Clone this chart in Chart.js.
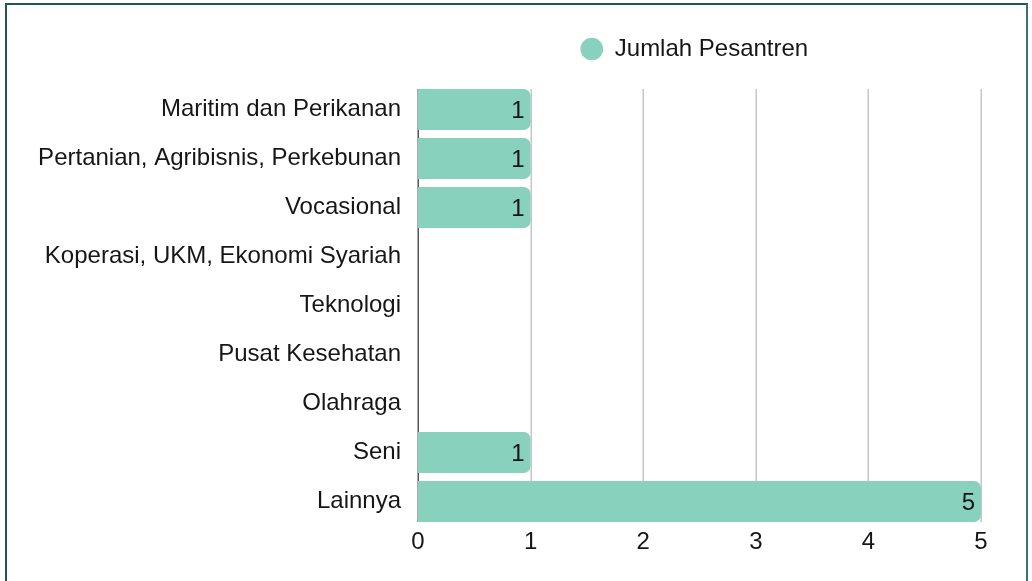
<!DOCTYPE html>
<html>
<head>
<meta charset="utf-8">
<script src="https://cdn.jsdelivr.net/npm/chart.js@4.4.1/dist/chart.umd.min.js"></script>
<style>
  html, body { margin: 0; padding: 0; background: #fff; overflow: hidden; }
  #wrap { position: absolute; left: 0; top: 0; width: 1032px; height: 581px; }
  #frame { position: absolute; left: 5px; top: 3px; width: 1019px; height: 600px;
           border-left: 2px solid #1d5a5a; border-top: 2px solid #1d5a5a; border-right: 2px solid #3d7070;
           pointer-events: none; }
</style>
</head>
<body>
<div id="wrap"><canvas id="c" width="1032" height="581"></canvas></div>
<div id="frame"></div>
<script>
const categories = [
  "Maritim dan Perikanan",
  "Pertanian, Agribisnis, Perkebunan",
  "Vocasional",
  "Koperasi, UKM, Ekonomi Syariah",
  "Teknologi",
  "Pusat Kesehatan",
  "Olahraga",
  "Seni",
  "Lainnya"
];
const seriesName = "Jumlah Pesantren";
const jumlahPesantren = [1, 1, 1, 0, 0, 0, 0, 1, 5];
const xTicks = [0, 1, 2, 3, 4, 5];

const FONT = "'Liberation Sans', Arial, sans-serif";
const TEXT = "#161616";

// grid lines and axis line spanning from first bar top to last bar bottom
const gridPlugin = {
  id: 'gridPlugin',
  beforeDatasetsDraw(chart) {
    const ctx = chart.ctx;
    const xs = chart.scales.x, ys = chart.scales.y;
    const n = chart.data.labels.length;
    const half = (ys.getPixelForValue(1) - ys.getPixelForValue(0)) * 0.837 / 2;
    const top = ys.getPixelForValue(0) - half;
    const bottom = ys.getPixelForValue(n - 1) + half;
    ctx.save();
    ctx.lineWidth = 1.5;
    ctx.strokeStyle = '#c6c6c6';
    xTicks.forEach(v => {
      if (v === 0) return;
      const x = Math.round(xs.getPixelForValue(v)) + 0.25;
      ctx.beginPath(); ctx.moveTo(x, top); ctx.lineTo(x, bottom); ctx.stroke();
    });
    ctx.strokeStyle = '#555555';
    const x0 = Math.round(xs.getPixelForValue(0)) + 0.25;
    ctx.beginPath(); ctx.moveTo(x0, top); ctx.lineTo(x0, bottom); ctx.stroke();
    ctx.restore();
  }
};

const valueLabels = {
  id: 'valueLabels',
  afterDatasetsDraw(chart) {
    const ctx = chart.ctx;
    const meta = chart.getDatasetMeta(0);
    ctx.save();
    ctx.font = "24px " + FONT;
    ctx.fillStyle = TEXT;
    ctx.textAlign = 'right';
    ctx.textBaseline = 'middle';
    meta.data.forEach((bar, i) => {
      const v = chart.data.datasets[0].data[i];
      if (!v) return;
      ctx.fillText(String(v), bar.x - 6, bar.y + 2);
    });
    ctx.restore();
  }
};

const legendTweak = {
  id: 'legendTweak',
  beforeInit(chart) {
    const lg = chart.legend;
    const origFit = lg.fit;
    lg.fit = function () {
      origFit.call(this);
      this.height = 59;
    };
    const origDraw = lg.draw;
    lg.draw = function () {
      const ctx = this.ctx;
      ctx.save();
      ctx.translate(-5, 1);
      origDraw.call(this);
      ctx.restore();
    };
  }
};

new Chart(document.getElementById('c'), {
  type: 'bar',
  data: {
    labels: categories,
    datasets: [{
      label: seriesName,
      data: jumlahPesantren,
      backgroundColor: '#88d1bd',
      borderWidth: 0,
      borderRadius: 7,
      borderSkipped: 'start',
      barPercentage: 1,
      categoryPercentage: 0.837
    }]
  },
  options: {
    indexAxis: 'y',
    responsive: false,
    animation: false,
    devicePixelRatio: 1,
    layout: { padding: { top: 26, right: 51, bottom: 0, left: 0 } },
    plugins: {
      legend: {
        position: 'top',
        fullSize: false,
        labels: {
          usePointStyle: true,
          pointStyle: 'circle',
          boxWidth: 22,
          boxHeight: 16,
          color: TEXT,
          font: { family: FONT, size: 24 },
          padding: 10
        }
      },
      tooltip: { enabled: false }
    },
    scales: {
      x: {
        min: 0,
        max: 5,
        afterBuildTicks(scale) { scale.ticks = xTicks.map(v => ({ value: v })); },
        afterFit(scale) { scale.height = 55; },
        ticks: { color: TEXT, font: { family: FONT, size: 24 }, padding: 2 },
        grid: { display: false, drawTicks: false },
        border: { display: false }
      },
      y: {
        afterFit(scale) { scale.width = 418; },
        ticks: { color: TEXT, font: { family: FONT, size: 24 }, padding: 17 },
        grid: { display: false, drawTicks: false },
        border: { display: false }
      }
    }
  },
  plugins: [gridPlugin, valueLabels, legendTweak]
});
</script>
</body>
</html>
